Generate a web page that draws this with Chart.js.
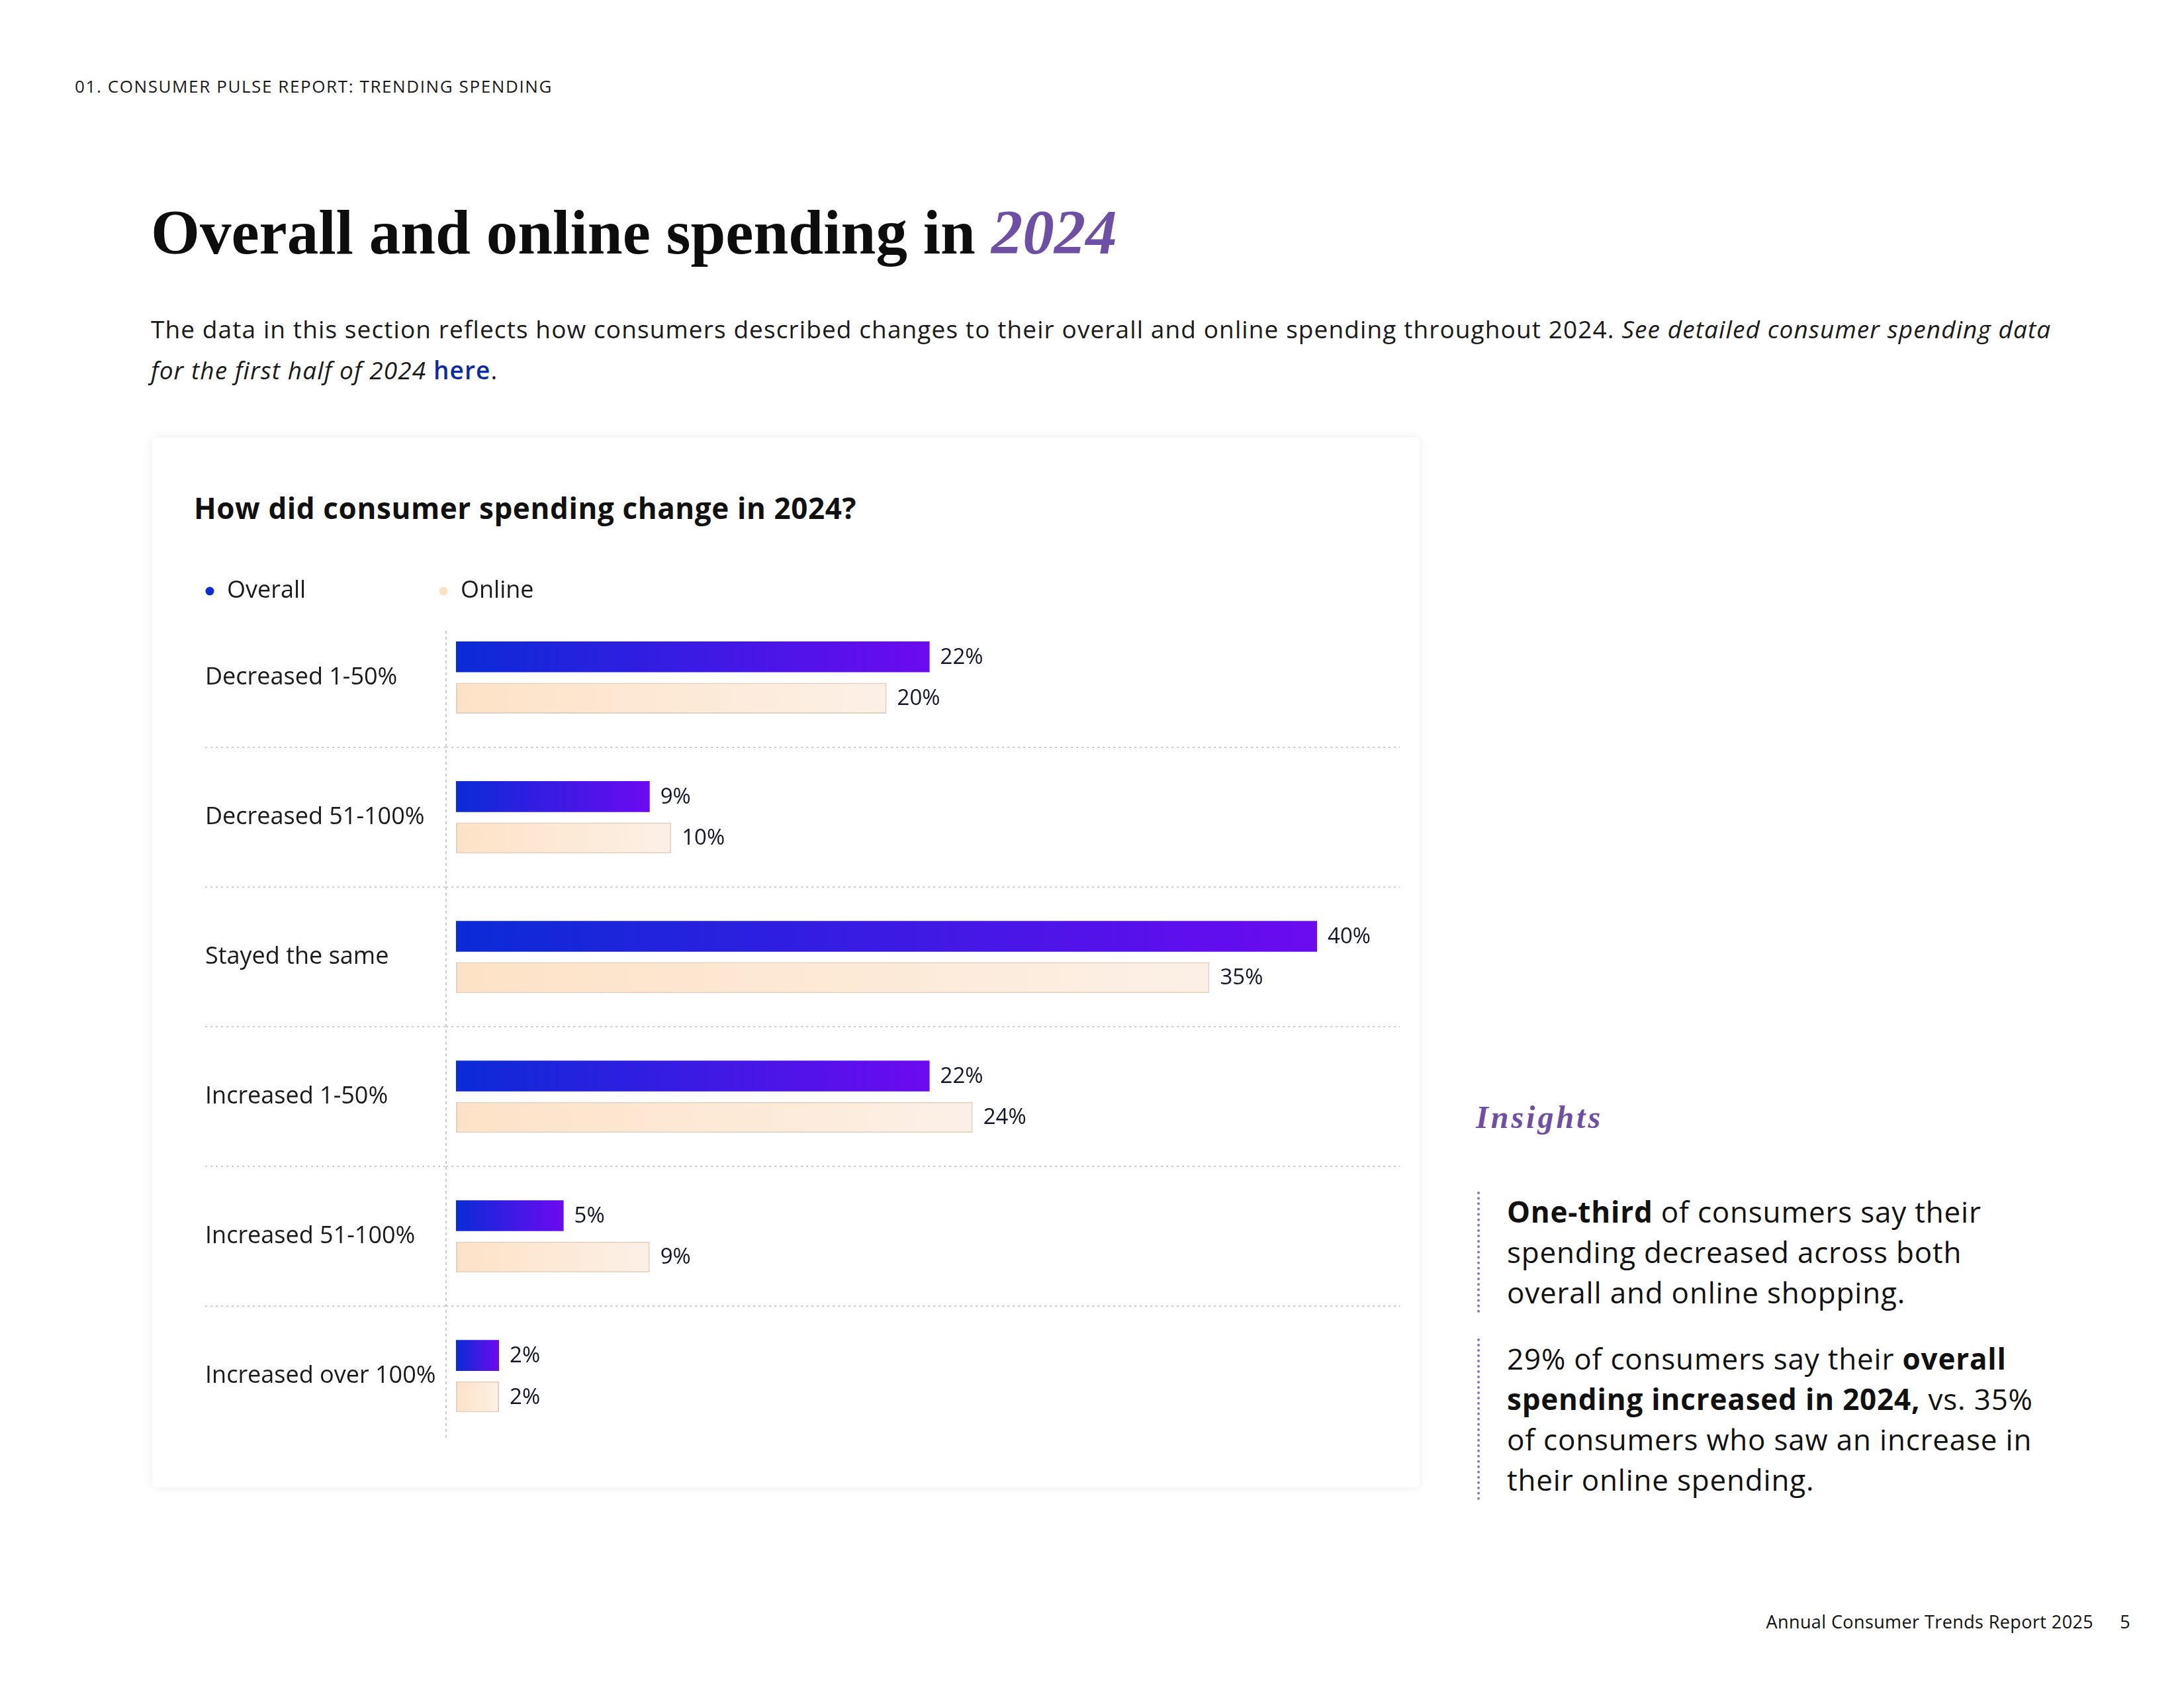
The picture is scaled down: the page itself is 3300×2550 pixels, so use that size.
<!DOCTYPE html>
<html>
<head>
<meta charset="utf-8">
<title>Overall and online spending in 2024</title>
<script src="https://cdn.jsdelivr.net/npm/chart.js@4.4.1/dist/chart.umd.min.js"></script>
<style>
  html, body { margin: 0; padding: 0; background: #fff; }
  body { width: 3300px; height: 2550px; position: relative; overflow: hidden;
         font-family: "Open Sans", "Noto Sans", sans-serif; color: #111; }
  .abs { position: absolute; }
  #kicker { left: 113px; top: 112px; font-size: 26px; letter-spacing: 1.6px; color: #1a1a1a; white-space: nowrap; }
  #title { left: 228px; top: 304px; font-family: "Liberation Serif", serif; font-weight: 700;
           font-size: 95px; line-height: 1; color: #0d0d0d; white-space: nowrap; }
  #title em { color: #6e4fa6; }
  #intro { left: 228px; top: 466px; font-size: 37px; letter-spacing: 1.1px; line-height: 62px; color: #1a1a1a; white-space: nowrap; }
  #intro a { color: #0b2aa3; font-weight: 600; text-decoration: none; font-style: normal; }
  #card { left: 230px; top: 661px; width: 1915px; height: 1586px; background: #fff;
          border-radius: 6px; box-shadow: 0 0 16px rgba(0,0,0,0.08); }
  #cardTitle { left: 293px; top: 737px; font-size: 44px; letter-spacing: 0.6px; font-weight: 700; color: #111; white-space: nowrap; }
  #chartBox { left: 300px; top: 864px; width: 1830px; height: 1345px; }
  #insightsHead { left: 2230px; top: 1660px; font-family: "Liberation Serif", serif; font-style: italic;
                  font-weight: 700; font-size: 48px; letter-spacing: 4px; color: #6e4fa6; }
  .insight { left: 2232px; font-size: 44px; letter-spacing: 0.8px; line-height: 61px; color: #111; white-space: nowrap;
             padding-left: 41px; border-left: 4px dotted #8a74b8; }
  .insight b { font-weight: 700; }
  #ins1 { top: 1800px; }
  #ins2 { top: 2022px; }
  #footer { right: 81px; top: 2431px; font-size: 27px; letter-spacing: 0.4px; color: #111; white-space: nowrap; }
  #footer span { margin-left: 40px; }
</style>
</head>
<body>
<div id="kicker" class="abs">01. CONSUMER PULSE REPORT: TRENDING SPENDING</div>
<div id="title" class="abs">Overall and online spending in <em>2024</em></div>
<div id="intro" class="abs">The data in this section reflects how consumers described changes to their overall and online spending throughout 2024. <em>See detailed consumer spending data</em><br><em>for the first half of 2024 <a href="#">here</a></em>.</div>

<div id="card" class="abs"></div>
<div id="cardTitle" class="abs">How did consumer spending change in 2024?</div>
<div id="chartBox" class="abs"><canvas id="spendChart"></canvas></div>

<div id="insightsHead" class="abs">Insights</div>
<div id="ins1" class="abs insight"><b>One-third</b> of consumers say their<br>spending decreased across both<br>overall and online shopping.</div>
<div id="ins2" class="abs insight">29% of consumers say their <b>overall</b><br><b>spending increased in 2024,</b> vs. 35%<br>of consumers who saw an increase in<br>their online spending.</div>

<div id="footer" class="abs">Annual Consumer Trends Report 2025<span>5</span></div>

<script>
var categories = ["Decreased 1-50%", "Decreased 51-100%", "Stayed the same",
                  "Increased 1-50%", "Increased 51-100%", "Increased over 100%"];
var seriesNames = ["Overall", "Online"];
var overallValues = [22, 9, 40, 22, 5, 2];
var onlineValues  = [20, 10, 35, 24, 9, 2];
var legendColors = ["#0a2bd6", "#f8e3c3"];

window.addEventListener("load", function () {
  if (typeof Chart === "undefined") return;

  var fontFamily = '"Open Sans", "Noto Sans", sans-serif';

  // gradient runs along each bar, from its base to its end
  function barGradient(from, to) {
    return function (c) {
      var chart = c.chart;
      if (!chart.chartArea || c.type !== "data" || !chart.scales.x) return from;
      var xs = chart.scales.x;
      var x0 = xs.getPixelForValue(0);
      var x1 = xs.getPixelForValue(c.raw);
      if (x1 - x0 < 1) return from;
      var g = chart.ctx.createLinearGradient(x0, 0, x1, 0);
      g.addColorStop(0, from);
      g.addColorStop(1, to);
      return g;
    };
  }

  var valueLabels = {
    id: "valueLabels",
    afterDatasetsDraw: function (chart) {
      var ctx = chart.ctx;
      ctx.save();
      ctx.font = "500 33px " + fontFamily;
      ctx.fillStyle = "#14142b";
      ctx.textAlign = "left";
      ctx.textBaseline = "middle";
      chart.data.datasets.forEach(function (ds, di) {
        var meta = chart.getDatasetMeta(di);
        meta.data.forEach(function (bar, i) {
          ctx.fillText(ds.data[i] + "%", bar.x + 16, bar.y + 1);
        });
      });
      ctx.restore();
    }
  };

  var axisLine = {
    id: "axisLine",
    beforeDatasetsDraw: function (chart) {
      var a = chart.chartArea, ctx = chart.ctx;
      ctx.save();
      ctx.strokeStyle = "#c9c9c9";
      ctx.lineWidth = 2;
      ctx.setLineDash([4, 5]);
      ctx.beginPath();
      ctx.moveTo(a.left, a.top + 35);
      ctx.lineTo(a.left, a.bottom - 8);
      ctx.stroke();
      ctx.restore();
    }
  };

  var dotLegend = {
    id: "dotLegend",
    afterDraw: function (chart) {
      var ctx = chart.ctx;
      var xs = [17, 370];
      ctx.save();
      ctx.font = "36px " + fontFamily;
      ctx.textBaseline = "middle";
      ctx.textAlign = "left";
      chart.data.datasets.forEach(function (ds, i) {
        ctx.fillStyle = legendColors[i];
        ctx.beginPath();
        ctx.arc(xs[i], 29, 6.5, 0, Math.PI * 2);
        ctx.fill();
        ctx.fillStyle = "#1a1a1a";
        ctx.fillText(ds.label, xs[i] + 26, 29);
      });
      ctx.restore();
    }
  };

  new Chart(document.getElementById("spendChart"), {
    type: "bar",
    data: {
      labels: categories,
      datasets: [{
        label: seriesNames[0],
        data: overallValues,
        backgroundColor: barGradient("#0a2bd6", "#6c0af0"),
        borderWidth: 0
      }, {
        label: seriesNames[1],
        data: onlineValues,
        backgroundColor: barGradient("#fde2c6", "#fcf0e6"),
        borderColor: "#e3cfc0",
        borderWidth: 2,
        borderSkipped: false
      }]
    },
    options: {
      indexAxis: "y",
      responsive: true,
      maintainAspectRatio: false,
      animation: false,
      categoryPercentage: 0.592,
      barPercentage: 0.746,
      layout: { padding: { top: 54, left: 10, right: 15, bottom: 15 } },
      plugins: {
        legend: { display: false },
        tooltip: { enabled: false }
      },
      scales: {
        x: { display: false, min: -0.46, max: 43.84 },
        y: {
          afterFit: function (scale) { scale.width = 364; },
          ticks: {
            crossAlign: "far",
            color: "#1a1a1a",
            font: { family: fontFamily, size: 36 }
          },
          grid: {
            offset: true,
            color: function (c) {
              return (c.index > 0 && c.index < categories.length) ? "#cfcfcf" : "rgba(0,0,0,0)";
            },
            lineWidth: 2,
            drawTicks: true,
            tickLength: 364,
            tickBorderDash: [3, 5]
          },
          border: { display: false, dash: [3, 5] }
        }
      }
    },
    plugins: [valueLabels, axisLine, dotLegend]
  });
});
</script>
</body>
</html>
